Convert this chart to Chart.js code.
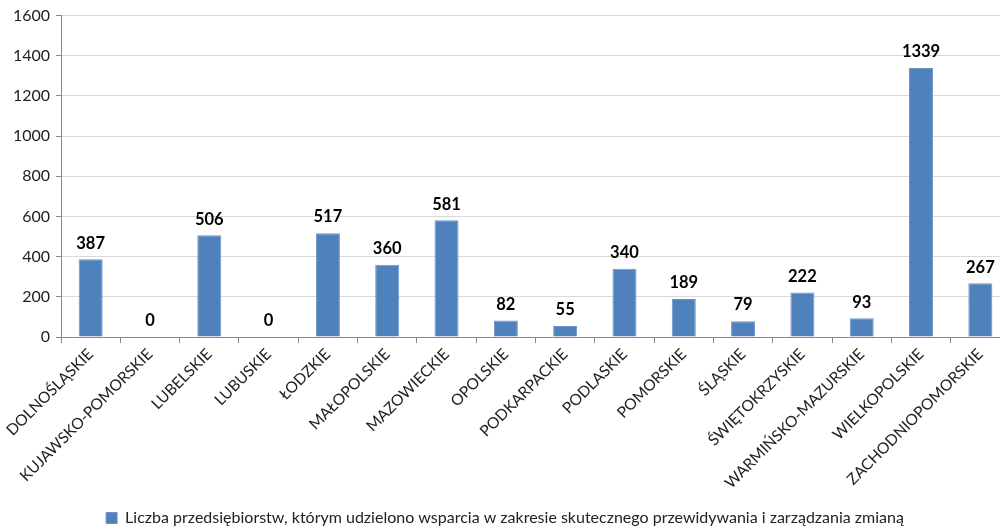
<!DOCTYPE html>
<html><head><meta charset="utf-8">
<script src="https://cdn.jsdelivr.net/npm/chart.js@4/dist/chart.umd.min.js"></script>
<style>html,body{margin:0;padding:0;overflow:hidden;background:#fff}#wrap{width:1010px;height:529px}</style>
</head><body><div id="wrap"><canvas id="c" width="1010" height="529"></canvas></div>
<script>
const categories = ["DOLNOŚLĄSKIE","KUJAWSKO-POMORSKIE","LUBELSKIE","LUBUSKIE","ŁODZKIE","MAŁOPOLSKIE","MAZOWIECKIE","OPOLSKIE","PODKARPACKIE","PODLASKIE","POMORSKIE","ŚLĄSKIE","ŚWIĘTOKRZYSKIE","WARMIŃSKO-MAZURSKIE","WIELKOPOLSKIE","ZACHODNIOPOMORSKIE"];
const values = [387,0,506,0,517,360,581,82,55,340,189,79,222,93,1339,267];
const seriesName = "Liczba przedsiębiorstw, którym udzielono wsparcia w zakresie skutecznego przewidywania i zarządzania zmianą";
const FONT = "Lato, 'Open Sans', sans-serif";

const labelPlugin = {
  id: 'vals',
  afterDatasetsDraw(chart) {
    const ctx = chart.ctx;
    const meta = chart.getDatasetMeta(0);
    ctx.save();
    ctx.font = "bold 16.5px " + FONT;
    ctx.fillStyle = "#000";
    ctx.textAlign = "center";
    ctx.textBaseline = "middle";
    meta.data.forEach((bar, i) => {
      ctx.fillText(String(values[i]), bar.x, bar.y - 16);
    });
    ctx.restore();
  }
};

new Chart(document.getElementById('c'), {
  type: 'bar',
  data: {
    labels: categories,
    datasets: [{
      label: seriesName,
      data: values,
      backgroundColor: '#4F81BD',
      borderColor: '#6B95C8',
      borderWidth: 1,
      categoryPercentage: 1,
      barPercentage: 0.405
    }]
  },
  options: {
    responsive: false,
    animation: false,
    layout: { padding: { top: 8, right: 0, left: 0, bottom: -7 } },
    plugins: {
      legend: {
        position: 'bottom',
        labels: { font: { family: FONT, size: 16 }, color: '#222', boxWidth: 11, boxHeight: 11, padding: 4 }
      },
      tooltip: { enabled: false }
    },
    scales: {
      y: {
        min: 0, max: 1600,
        ticks: { stepSize: 200, font: { family: FONT, size: 16 }, color: '#222', padding: 6, callback: v => String(v) },
        grid: { color: '#d9d9d9', tickLength: 5, tickColor: '#888' },
        border: { color: '#888' },
        afterFit(s) { s.width = 61; }
      },
      x: {
        ticks: { font: { family: FONT, size: 15.5 }, color: '#222', minRotation: 45, maxRotation: 45, autoSkip: false, padding: 2 },
        grid: { offset: true, drawOnChartArea: false, tickLength: 6, color: '#888' },
        border: { color: '#888' },
        afterFit(s) { s.height = 169; }
      }
    }
  },
  plugins: [labelPlugin]
});
</script></body></html>
